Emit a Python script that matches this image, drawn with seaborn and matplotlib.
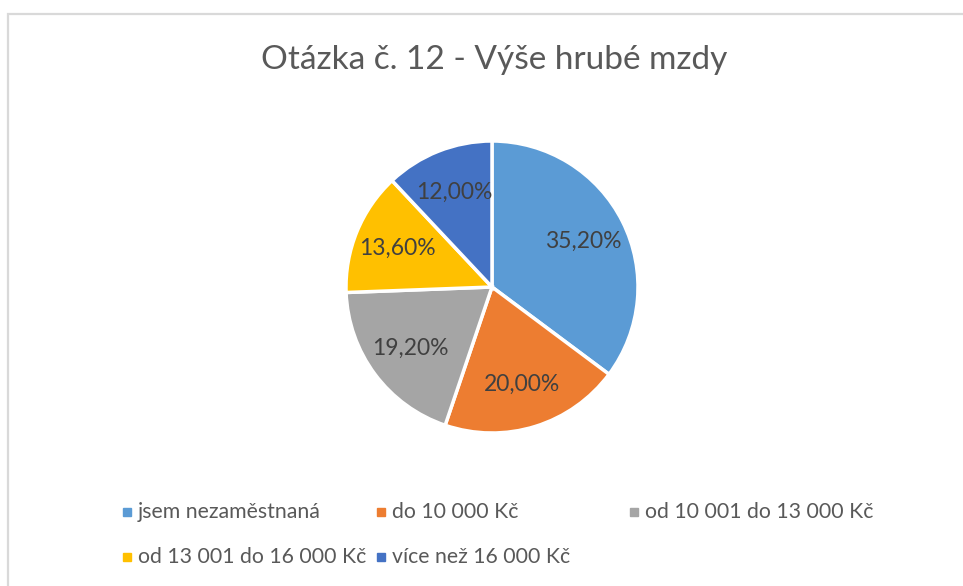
import matplotlib
matplotlib.use("Agg")
import matplotlib.pyplot as plt
from matplotlib.patches import Rectangle
import seaborn as sns

# data
categories = [
    "jsem nezaměstnaná",
    "do 10 000 Kč",
    "od 10 001 do 13 000 Kč",
    "od 13 001 do 16 000 Kč",
    "více než 16 000 Kč",
]
shares = [35.20, 20.00, 19.20, 13.60, 12.00]
colors = ["#5B9BD5", "#ED7D31", "#A5A5A5", "#FFC000", "#4472C4"]

title = "Otázka č. 12 - Výše hrubé mzdy"

sns.set_theme(style="white")
plt.rcParams["font.family"] = ["Lato", "DejaVu Sans"]

W, H = 963, 586
fig = plt.figure(figsize=(W / 100, H / 100), dpi=100)
fig.patch.set_facecolor("white")

# light chart frame (only left and top edges visible in the crop)
fig.patches.append(Rectangle((8 / W, -0.1), 1.2, (H - 14) / H + 0.1,
                             transform=fig.transFigure, fill=False,
                             edgecolor="#D9D9D9", linewidth=1.6))

cx, cy, r = 492, 287, 146
ax = fig.add_axes([(cx - r) / W, (H - cy - r) / H, 2 * r / W, 2 * r / H])
wedges, texts, autotexts = ax.pie(
    shares, colors=colors, startangle=90, counterclock=False,
    autopct=lambda p: f"{p:.2f}%".replace(".", ","), pctdistance=0.7,
    wedgeprops=dict(edgecolor="white", linewidth=2.5),
    textprops=dict(color="#404040", fontsize=16.5),
)
ax.set_xlim(-1, 1)
ax.set_ylim(-1, 1)
ax.set_aspect("equal")
ax.axis("off")

fig.text(494 / W, 1 - 60 / H, title, ha="center", va="center",
         fontsize=24, color="#595959")

# legend in Excel layout: 3 columns, wraps to second row
col_x = [123, 377, 630]
row_y = [512, 557]
for i, (lab, col) in enumerate(zip(categories, colors)):
    x = col_x[i % 3]
    y = row_y[i // 3]
    fig.patches.append(Rectangle((x / W, 1 - (y + 4) / H), 8 / W, 8 / H,
                                 transform=fig.transFigure, color=col))
    fig.text((x + 15) / W, 1 - y / H, lab, ha="left", va="center",
             fontsize=15.3, color="#595959")

fig.savefig("out.png", dpi=100)
